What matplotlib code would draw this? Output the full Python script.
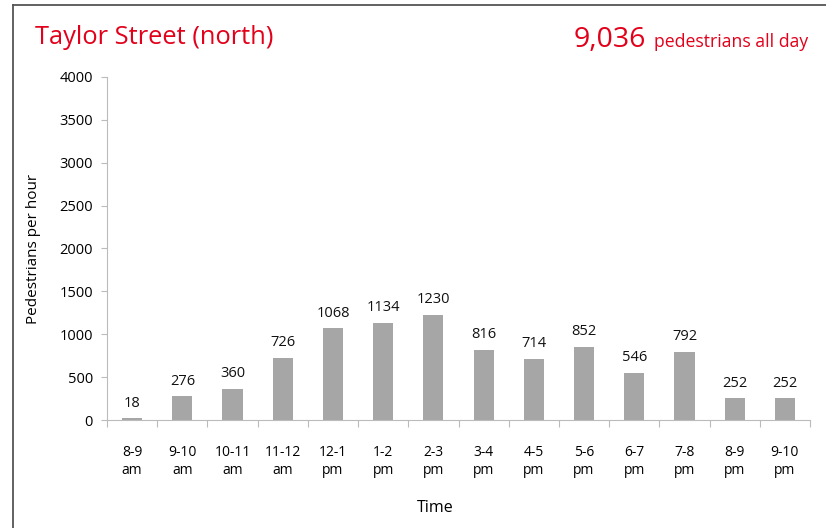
import matplotlib.pyplot as plt
from matplotlib.lines import Line2D

# Hourly pedestrian counts, Taylor Street (north)
hours = ["8-9\nam", "9-10\nam", "10-11\nam", "11-12\nam", "12-1\npm", "1-2\npm", "2-3\npm",
         "3-4\npm", "4-5\npm", "5-6\npm", "6-7\npm", "7-8\npm", "8-9\npm", "9-10\npm"]
counts = [18, 276, 360, 726, 1068, 1134, 1230, 816, 714, 852, 546, 792, 252, 252]
total_text = "9,036"

red = "#e2001a"
plt.rcParams["font.family"] = ["Open Sans", "DejaVu Sans"]

fig = plt.figure(figsize=(8.26, 5.28), dpi=100)

# panel frame: only top and left edges are visible
fx, fy = 13 / 826, 1 - 4.5 / 528
fig.add_artist(Line2D([fx, 1.0], [fy, fy], transform=fig.transFigure, color="#555555", lw=1.3))
fig.add_artist(Line2D([fx, fx], [0.0, fy], transform=fig.transFigure, color="#555555", lw=1.3))

ax = fig.add_axes([107 / 826, (528 - 420) / 528, (810 - 107) / 826, (420 - 77) / 528])
x = range(len(hours))
ax.bar(x, counts, width=0.4, color="#a6a6a6")
for xi, v in zip(x, counts):
    ax.text(xi, v + 90, str(v), ha="center", va="bottom", fontsize=10.5, color="#111111")

ax.set_xlim(-0.5, len(hours) - 0.5)
ax.set_ylim(0, 4000)
ax.set_yticks(range(0, 4001, 500))
ax.tick_params(axis="y", labelsize=10.5, length=4, color="#bbbbbb", pad=6)
ax.set_xticks([i + 0.5 for i in range(-1, len(hours))], minor=False)
ax.set_xticklabels([])
ax.set_xticks(list(x), minor=True)
ax.set_xticklabels(hours, minor=True, fontsize=10, linespacing=1.25)
ax.tick_params(axis="x", which="major", length=5, color="#bbbbbb")
ax.tick_params(axis="x", which="minor", length=0, pad=18)

for side in ["top", "right"]:
    ax.spines[side].set_visible(False)
for side in ["left", "bottom"]:
    ax.spines[side].set_color("#bbbbbb")

ax.set_ylabel("Pedestrians per hour", fontsize=11, labelpad=13)
fig.text(435 / 826, 1 - 508 / 528, "Time", ha="center", va="center", fontsize=11.5)

fig.text(35 / 826, 1 - 38 / 528, "Taylor Street (north)", color=red, fontsize=18.4,
         ha="left", va="center")
t = fig.text(808 / 826, 1 - 47 / 528, "pedestrians all day", color=red, fontsize=12.7,
             ha="right", va="baseline")
fig.canvas.draw()
bb = t.get_window_extent()
fig.text((bb.x0 - 8) / 826, 1 - 47 / 528, total_text, color=red, fontsize=20.5,
         ha="right", va="baseline")

fig.savefig("out.png", dpi=100)
